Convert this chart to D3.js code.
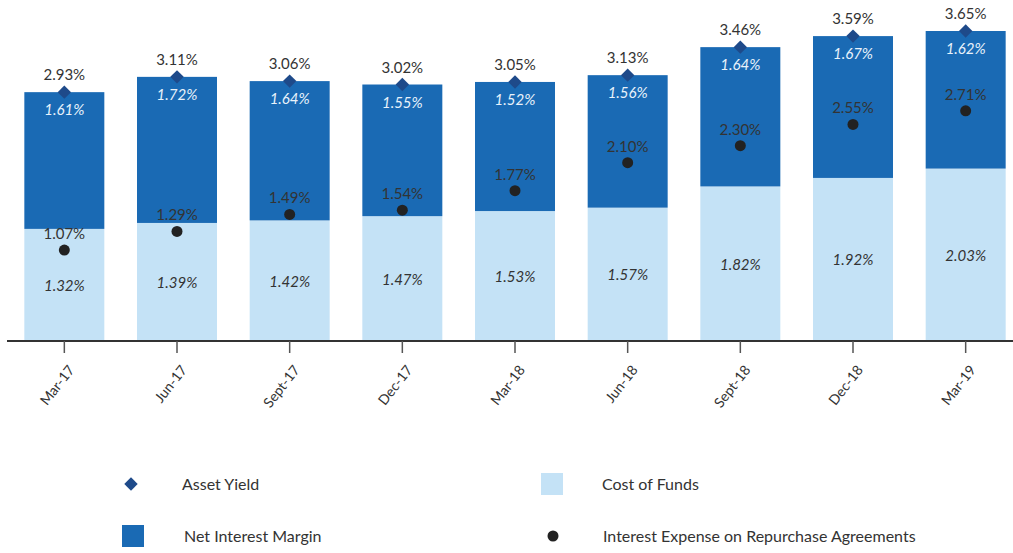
<!DOCTYPE html>
<html>
<head>
<meta charset="utf-8">
<script src="https://cdn.jsdelivr.net/npm/d3@7"></script>
<style>
  body { margin: 0; background: #fff; }
  svg { font-family: Lato, "Open Sans", sans-serif; }
</style>
</head>
<body>
<svg id="chart" width="1013" height="553"></svg>
<script>
var quarters = ['Mar-17', 'Jun-17', 'Sept-17', 'Dec-17', 'Mar-18', 'Jun-18', 'Sept-18', 'Dec-18', 'Mar-19'];
var costOfFunds = [1.32, 1.39, 1.42, 1.47, 1.53, 1.57, 1.82, 1.92, 2.03];
var netInterestMargin = [1.61, 1.72, 1.64, 1.55, 1.52, 1.56, 1.64, 1.67, 1.62];
var assetYield = [2.93, 3.11, 3.06, 3.02, 3.05, 3.13, 3.46, 3.59, 3.65];
var repoExpense = [1.07, 1.29, 1.49, 1.54, 1.77, 2.10, 2.30, 2.55, 2.71];

var chart = {
    baseline: 341,
    top: 31,
    left: 8,
    right: 1022,
    light: '#c4e2f6',
    dark: '#1a6ab4',
    diamond: '#1e4a8a',
    dot: '#222',
    text: '#333'
};

var svg = d3.select('#chart');
var fmt = function(v) { return v.toFixed(2) + '%'; };

var x = d3.scaleBand()
    .domain(quarters)
    .range([chart.left, chart.right])
    .paddingInner(0.29)
    .paddingOuter(0.145);

var y = d3.scaleLinear()
    .domain([0, 3.65])
    .range([chart.baseline, chart.top]);

var rows = quarters.map(function(q, i) {
    return { q: q, cof: costOfFunds[i], nim: netInterestMargin[i], ay: assetYield[i], repo: repoExpense[i] };
});

var cx = function(d) { return x(d.q) + x.bandwidth() / 2; };

// light segment
svg.append('g').selectAll('rect').data(rows).join('rect')
    .attr('x', function(d) { return x(d.q); })
    .attr('width', x.bandwidth())
    .attr('y', function(d) { return y(d.cof); })
    .attr('height', function(d) { return y(0) - y(d.cof); })
    .attr('fill', chart.light);

// dark segment
svg.append('g').selectAll('rect').data(rows).join('rect')
    .attr('x', function(d) { return x(d.q); })
    .attr('width', x.bandwidth())
    .attr('y', function(d) { return y(d.cof + d.nim); })
    .attr('height', function(d) { return y(d.cof) - y(d.cof + d.nim); })
    .attr('fill', chart.dark);

// axis
var axis = svg.append('g')
    .attr('transform', 'translate(0,' + chart.baseline + ')')
    .call(d3.axisBottom(x).tickSize(12).tickSizeOuter(0));
axis.select('.domain').attr('stroke', '#333').attr('stroke-width', 2)
    .attr('d', 'M7,0H1013');
axis.selectAll('.tick line').attr('stroke', '#555').attr('stroke-width', 1.5);
axis.selectAll('.tick text')
    .attr('font-size', 14)
    .attr('fill', chart.text)
    .attr('font-family', 'Lato, "Open Sans", sans-serif')
    .attr('text-anchor', 'end')
    .attr('y', 0)
    .attr('dy', '0.35em')
    .attr('transform', 'translate(7,26) rotate(-52)');

// labels inside bars
svg.append('g').selectAll('text').data(rows).join('text')
    .attr('x', cx)
    .attr('y', function(d) { return (y(d.cof) + y(0)) / 2 + 6; })
    .attr('text-anchor', 'middle')
    .attr('font-size', 15)
    .attr('font-style', 'italic')
    .attr('fill', chart.text)
    .text(function(d) { return fmt(d.cof); });

svg.append('g').selectAll('text').data(rows).join('text')
    .attr('x', cx)
    .attr('y', function(d) { return y(d.ay) + 23; })
    .attr('text-anchor', 'middle')
    .attr('font-size', 15)
    .attr('font-style', 'italic')
    .attr('fill', '#e8f2fb')
    .text(function(d) { return fmt(d.nim); });

// repo expense dots
svg.append('g').selectAll('circle').data(rows).join('circle')
    .attr('cx', cx)
    .attr('cy', function(d) { return y(d.repo); })
    .attr('r', 5.5)
    .attr('fill', chart.dot);

svg.append('g').selectAll('text').data(rows).join('text')
    .attr('x', cx)
    .attr('y', function(d) { return y(d.repo) - 11; })
    .attr('text-anchor', 'middle')
    .attr('font-size', 15)
    .attr('fill', chart.text)
    .text(function(d) { return fmt(d.repo); });

// asset yield diamonds
svg.append('g').selectAll('path').data(rows).join('path')
    .attr('transform', function(d) { return 'translate(' + cx(d) + ',' + y(d.ay) + ') rotate(45)'; })
    .attr('d', d3.symbol().type(d3.symbolSquare).size(90))
    .attr('fill', chart.diamond);

svg.append('g').selectAll('text').data(rows).join('text')
    .attr('x', cx)
    .attr('y', function(d) { return y(d.ay) - 12; })
    .attr('text-anchor', 'middle')
    .attr('font-size', 15)
    .attr('fill', chart.text)
    .text(function(d) { return fmt(d.ay); });

// legend
var legend = [
    { name: 'Asset Yield', kind: 'diamond', x: 131, y: 484 },
    { name: 'Cost of Funds', kind: 'light', x: 552, y: 484 },
    { name: 'Net Interest Margin', kind: 'dark', x: 133, y: 536 },
    { name: 'Interest Expense on Repurchase Agreements', kind: 'dot', x: 553, y: 536 }
];
var lg = svg.append('g').selectAll('g').data(legend).join('g')
    .attr('transform', function(d) { return 'translate(' + d.x + ',' + d.y + ')'; });
lg.each(function(d) {
    var g = d3.select(this);
    if (d.kind === 'diamond') {
        g.append('path').attr('d', d3.symbol().type(d3.symbolSquare).size(90))
            .attr('transform', 'rotate(45)').attr('fill', chart.diamond);
    } else if (d.kind === 'dot') {
        g.append('circle').attr('r', 5.5).attr('fill', chart.dot);
    } else {
        g.append('rect').attr('x', -11).attr('y', -11).attr('width', 22).attr('height', 22)
            .attr('fill', d.kind === 'light' ? chart.light : chart.dark);
    }
});
lg.append('text')
    .attr('x', function(d) { return d.x < 300 ? 51 : 50; })
    .attr('dy', '0.35em')
    .attr('font-size', 16)
    .attr('fill', chart.text)
    .text(function(d) { return d.name; });
</script>
</body>
</html>
